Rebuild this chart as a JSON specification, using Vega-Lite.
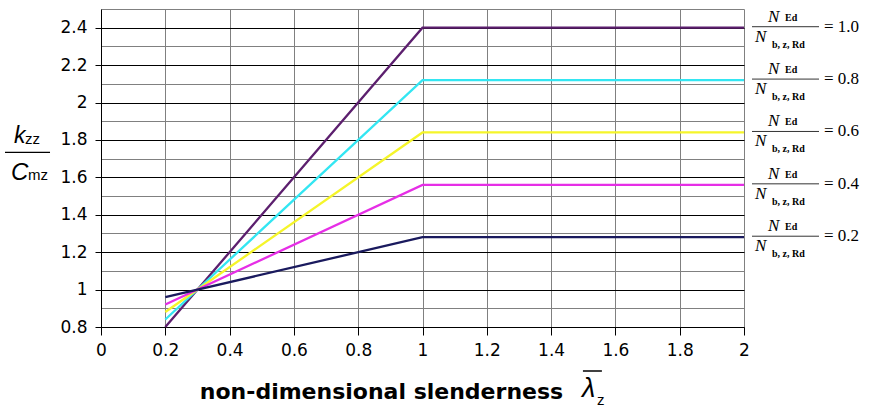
{
  "$schema": "https://vega.github.io/schema/vega-lite/v6.json",
  "width": 643,
  "height": 318,
  "autosize": {"type": "none"},
  "padding": {"left": 101, "top": 9, "right": 135, "bottom": 83},
  "background": "white",
  "config": {"view": {"stroke": null}},
  "datasets": {
    "lines": [
      {"n": "1.0", "lambda": 0.2, "k": 0.8}, {"n": "1.0", "lambda": 1, "k": 2.4}, {"n": "1.0", "lambda": 2, "k": 2.4},
      {"n": "0.8", "lambda": 0.2, "k": 0.84}, {"n": "0.8", "lambda": 1, "k": 2.12}, {"n": "0.8", "lambda": 2, "k": 2.12},
      {"n": "0.6", "lambda": 0.2, "k": 0.88}, {"n": "0.6", "lambda": 1, "k": 1.84}, {"n": "0.6", "lambda": 2, "k": 1.84},
      {"n": "0.4", "lambda": 0.2, "k": 0.92}, {"n": "0.4", "lambda": 1, "k": 1.56}, {"n": "0.4", "lambda": 2, "k": 1.56},
      {"n": "0.2", "lambda": 0.2, "k": 0.96}, {"n": "0.2", "lambda": 1, "k": 1.28}, {"n": "0.2", "lambda": 2, "k": 1.28}
    ],
    "labels": [
      {"n": "1.0", "k": 2.4, "num": "N", "numSub": "Ed", "den": "N", "denSub": "b, z, Rd", "eq": "= 1.0"},
      {"n": "0.8", "k": 2.12, "num": "N", "numSub": "Ed", "den": "N", "denSub": "b, z, Rd", "eq": "= 0.8"},
      {"n": "0.6", "k": 1.84, "num": "N", "numSub": "Ed", "den": "N", "denSub": "b, z, Rd", "eq": "= 0.6"},
      {"n": "0.4", "k": 1.56, "num": "N", "numSub": "Ed", "den": "N", "denSub": "b, z, Rd", "eq": "= 0.4"},
      {"n": "0.2", "k": 1.28, "num": "N", "numSub": "Ed", "den": "N", "denSub": "b, z, Rd", "eq": "= 0.2"}
    ],
    "ytitle": [{"num": "k", "numSub": "zz", "den": "C", "denSub": "mz"}],
    "xsymbol": [{"sym": "λ", "sub": "z"}]
  },
  "layer": [
    {
      "data": {"name": "lines"},
      "mark": {"type": "line", "strokeWidth": 2.3, "clip": false},
      "encoding": {
        "x": {
          "field": "lambda", "type": "quantitative",
          "scale": {"domain": [0, 2], "nice": false, "zero": false},
          "axis": {
            "values": [0, 0.2, 0.4, 0.6, 0.8, 1, 1.2, 1.4, 1.6, 1.8, 2],
            "tickCount": 30,
            "labelExpr": "'' + round(datum.value*10)/10",
            "title": "non-dimensional slenderness",
            "titleFont": "DejaVu Sans", "titleFontSize": 22, "titleFontWeight": "bold", "titleColor": "black",
            "titleX": 280, "titleY": 71, "titleBaseline": "alphabetic", "titleAlign": "center", "titleAnchor": null,
            "labelFont": "DejaVu Sans", "labelFontSize": 17, "labelColor": "black", "labelPadding": 7,
            "tickColor": "black", "tickSize": 8, "domainColor": "black", "domainWidth": 1,
            "grid": true, "gridColor": "#808080", "gridWidth": 1, "labelFlush": false, "labelOverlap": false
          }
        },
        "y": {
          "field": "k", "type": "quantitative",
          "scale": {"domain": [0.8, 2.5], "nice": false, "zero": false},
          "axis": {
            "values": [0.8, 0.9, 1, 1.1, 1.2, 1.3, 1.4, 1.5, 1.6, 1.7, 1.8, 1.9, 2, 2.1, 2.2, 2.3, 2.4, 2.5],
            "tickCount": 40,
            "labelExpr": "round(datum.value*10)%2==0 ? '' + round(datum.value*10)/10 : ''",
            "title": null,
            "labelFont": "DejaVu Sans", "labelFontSize": 17, "labelColor": "black", "labelPadding": 8,
            "tickSize": 6,
            "tickColor": {"condition": {"test": "round(datum.value*10)%2==0", "value": "black"}, "value": "transparent"},
            "gridColor": {"condition": {"test": "round(datum.value*10)%2==0 && datum.value < 2.45", "value": "black"}, "value": "#808080"},
            "domainColor": "black", "grid": true, "gridWidth": 1, "labelFlush": false, "labelOverlap": false
          }
        },
        "color": {
          "field": "n", "type": "nominal", "legend": null,
          "scale": {"domain": ["1.0", "0.8", "0.6", "0.4", "0.2"], "range": ["#5c1f6e", "#33e6f2", "#f5f52a", "#e62ee6", "#1a1a5e"]}
        }
      }
    },
    {
      "data": {"name": "labels"},
      "mark": {"type": "rule", "xOffset": 8, "x2Offset": 75, "yOffset": -1, "color": "#333333", "strokeWidth": 1},
      "encoding": {"x": {"datum": 2}, "x2": {"datum": 2}, "y": {"field": "k", "type": "quantitative"}}
    },
    {
      "data": {"name": "labels"},
      "mark": {"type": "text", "align": "left", "baseline": "alphabetic", "dx": 24, "dy": -6, "font": "Liberation Serif", "fontStyle": "italic", "fontSize": 17, "color": "black"},
      "encoding": {"x": {"datum": 2}, "y": {"field": "k", "type": "quantitative"}, "text": {"field": "num"}}
    },
    {
      "data": {"name": "labels"},
      "mark": {"type": "text", "align": "left", "baseline": "alphabetic", "dx": 41, "dy": -7, "font": "Liberation Serif", "fontWeight": "bold", "fontSize": 10, "color": "black"},
      "encoding": {"x": {"datum": 2}, "y": {"field": "k", "type": "quantitative"}, "text": {"field": "numSub"}}
    },
    {
      "data": {"name": "labels"},
      "mark": {"type": "text", "align": "left", "baseline": "alphabetic", "dx": 11, "dy": 14, "font": "Liberation Serif", "fontStyle": "italic", "fontSize": 17, "color": "black"},
      "encoding": {"x": {"datum": 2}, "y": {"field": "k", "type": "quantitative"}, "text": {"field": "den"}}
    },
    {
      "data": {"name": "labels"},
      "mark": {"type": "text", "align": "left", "baseline": "alphabetic", "dx": 28, "dy": 20, "font": "Liberation Serif", "fontWeight": "bold", "fontSize": 10, "color": "black"},
      "encoding": {"x": {"datum": 2}, "y": {"field": "k", "type": "quantitative"}, "text": {"field": "denSub"}}
    },
    {
      "data": {"name": "labels"},
      "mark": {"type": "text", "align": "left", "baseline": "middle", "dx": 80, "dy": -1, "font": "Liberation Serif", "fontSize": 17, "color": "black"},
      "encoding": {"x": {"datum": 2}, "y": {"field": "k", "type": "quantitative"}, "text": {"field": "eq"}}
    },
    {
      "data": {"name": "ytitle"},
      "mark": {"type": "rule", "color": "black", "strokeWidth": 1.2},
      "encoding": {"x": {"datum": -0.2986}, "x2": {"datum": -0.1586}, "y": {"datum": 1.733}}
    },
    {
      "data": {"name": "ytitle"},
      "mark": {"type": "text", "align": "left", "baseline": "alphabetic", "dx": 9, "dy": -9, "font": "Liberation Sans", "fontStyle": "italic", "fontSize": 23, "color": "black"},
      "encoding": {"x": {"datum": -0.2986}, "y": {"datum": 1.733}, "text": {"field": "num"}}
    },
    {
      "data": {"name": "ytitle"},
      "mark": {"type": "text", "align": "left", "baseline": "alphabetic", "dx": 20, "dy": -8, "font": "Liberation Sans", "fontSize": 15, "color": "black"},
      "encoding": {"x": {"datum": -0.2986}, "y": {"datum": 1.733}, "text": {"field": "numSub"}}
    },
    {
      "data": {"name": "ytitle"},
      "mark": {"type": "text", "align": "left", "baseline": "alphabetic", "dx": 6, "dy": 28, "font": "Liberation Sans", "fontStyle": "italic", "fontSize": 24, "color": "black"},
      "encoding": {"x": {"datum": -0.2986}, "y": {"datum": 1.733}, "text": {"field": "den"}}
    },
    {
      "data": {"name": "ytitle"},
      "mark": {"type": "text", "align": "left", "baseline": "alphabetic", "dx": 23, "dy": 28, "font": "Liberation Sans", "fontSize": 15, "color": "black"},
      "encoding": {"x": {"datum": -0.2986}, "y": {"datum": 1.733}, "text": {"field": "denSub"}}
    },
    {
      "data": {"name": "xsymbol"},
      "mark": {"type": "text", "align": "left", "baseline": "alphabetic", "dx": 0, "dy": 70, "font": "Liberation Sans", "fontStyle": "italic", "fontSize": 27, "color": "black"},
      "encoding": {"x": {"datum": 1.496}, "y": {"datum": 0.8}, "text": {"field": "sym"}}
    },
    {
      "data": {"name": "xsymbol"},
      "mark": {"type": "rule", "color": "black", "strokeWidth": 1.5, "yOffset": 44},
      "encoding": {"x": {"datum": 1.499}, "x2": {"datum": 1.558}, "y": {"datum": 0.8}}
    },
    {
      "data": {"name": "xsymbol"},
      "mark": {"type": "text", "align": "left", "baseline": "alphabetic", "dx": 0, "dy": 78, "font": "Liberation Sans", "fontSize": 15, "color": "black"},
      "encoding": {"x": {"datum": 1.543}, "y": {"datum": 0.8}, "text": {"field": "sub"}}
    }
  ]
}
